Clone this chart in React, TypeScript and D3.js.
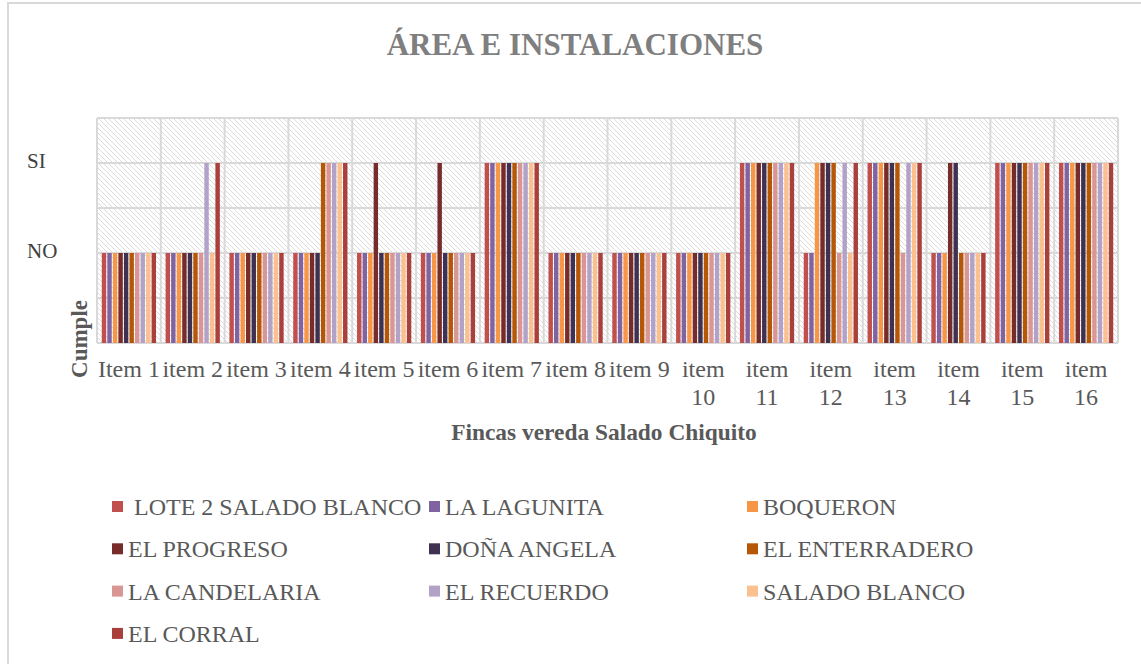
import React from "react";
import * as d3 from "d3";

const categories = ["Item 1","item 2","item 3","item 4","item 5","item 6","item 7","item 8","item 9","item 10","item 11","item 12","item 13","item 14","item 15","item 16"];
const seriesNames = [" LOTE 2 SALADO BLANCO","LA LAGUNITA","BOQUERON","EL PROGRESO","DOÑA ANGELA","EL ENTERRADERO","LA CANDELARIA","EL RECUERDO","SALADO BLANCO","EL CORRAL"];
const seriesColors = ["#C0504D","#8064A2","#F79646","#772C2A","#3F3151","#B65708","#D99694","#B3A2C7","#FAC090","#A9403C"];
// values per series across the 16 items (2 = NO, 4 = SI)
const lote2 =        [2,2,2,2,2,2,4,2,2,2,4,2,4,2,4,4];
const laLagunita =   [2,2,2,2,2,2,4,2,2,2,4,2,4,2,4,4];
const boqueron =     [2,2,2,2,2,2,4,2,2,2,4,4,4,2,4,4];
const elProgreso =   [2,2,2,2,4,4,4,2,2,2,4,4,4,4,4,4];
const donaAngela =   [2,2,2,2,2,2,4,2,2,2,4,4,4,4,4,4];
const enterradero =  [2,2,2,4,2,2,4,2,2,2,4,4,4,2,4,4];
const candelaria =   [2,2,2,4,2,2,4,2,2,2,4,2,2,2,4,4];
const recuerdo =     [2,4,2,4,2,2,4,2,2,2,4,4,4,2,4,4];
const saladoBlanco = [2,2,2,4,2,2,4,2,2,2,4,2,4,2,4,4];
const elCorral =     [2,4,2,4,2,2,4,2,2,2,4,4,4,2,4,4];
const seriesValues = [lote2,laLagunita,boqueron,elProgreso,donaAngela,enterradero,candelaria,recuerdo,saladoBlanco,elCorral];
const yTickValues = [2,4];
const yTickLabels = ["NO","SI"];
const yGrid = [0,1,2,3,4,5];

const FONT = "'Liberation Serif', 'Times New Roman', serif";

export default function App() {
  const W = 1141, H = 664;
  const left = 97, right = 1118, top = 118, bottom = 343;
  const x = d3.scaleBand<string>().domain(categories).range([left, right]).paddingInner(0.15).paddingOuter(0.075);
  const xs = d3.scaleBand<string>().domain(seriesNames).range([0, x.bandwidth()]).paddingInner(0.2);
  const y = d3.scaleLinear().domain([0, 5]).range([bottom, top]);
  const step = (right - left) / categories.length;

  const legendCols = [112, 429, 747];
  const legendRow0 = 501, legendRowStep = 42.3;

  return (
    <>
      <style>{`body{margin:0}`}</style>
      <svg width={W} height={H} style={{ display: "block", background: "#fff" }} fontFamily={FONT}>
        <defs>
          <pattern id="hatch" width="5" height="5" patternUnits="userSpaceOnUse">
            <rect width="5" height="5" fill="#fff" />
            <path d="M-1,-1 L6,6 M-3.5,1.5 L1.5,6.5 M3.5,-1.5 L6.5,1.5" stroke="#DCDCDC" strokeWidth="1" />
          </pattern>
        </defs>
        {/* chart frame */}
        <path d={`M8,${H} L8,3 L${W},3`} fill="none" stroke="#D9D9D9" strokeWidth={2} />
        {/* title */}
        <text x={575} y={55} textAnchor="middle" fontSize={31} fontWeight="bold" fill="#7F7F7F">ÁREA E INSTALACIONES</text>
        {/* plot area */}
        <rect x={left} y={top} width={right - left} height={bottom - top} fill="url(#hatch)" />
        {yGrid.map((v) => (
          <line key={"g" + v} x1={left} x2={right} y1={y(v)} y2={y(v)} stroke="#D9D9D9" strokeWidth={2} />
        ))}
        {d3.range(categories.length + 1).map((i) => (
          <line key={"v" + i} x1={left + i * step} x2={left + i * step} y1={top} y2={bottom} stroke="#D9D9D9" strokeWidth={2} />
        ))}
        {/* bars */}
        {seriesValues.map((vals, si) => (
          <g key={"s" + si} fill={seriesColors[si]}>
            {vals.map((v, ci) => (
              <rect key={ci} x={(x(categories[ci]) as number) + (xs(seriesNames[si]) as number)} y={y(v)} width={xs.bandwidth()} height={y(0) - y(v)} />
            ))}
          </g>
        ))}
        {/* y tick labels */}
        {yTickValues.map((v, i) => (
          <text key={"yt" + i} x={27} y={y(v) - 2} dominantBaseline="central" fontSize={21} fill="#404040">{yTickLabels[i]}</text>
        ))}
        {/* y axis title */}
        <text transform={`translate(87,339) rotate(-90)`} textAnchor="middle" fontSize={23} fontWeight="bold" fill="#595959">Cumple</text>
        {/* x tick labels */}
        {categories.map((c) => {
          const cx = (x(c) as number) + x.bandwidth() / 2;
          const parts = c.split(" ");
          const wrap = parts[1].length > 1;
          return wrap ? (
            <text key={c} x={cx} y={377} textAnchor="middle" fontSize={24} fill="#595959">
              <tspan x={cx}>{parts[0]}</tspan>
              <tspan x={cx} dy={28}>{parts[1]}</tspan>
            </text>
          ) : (
            <text key={c} x={cx} y={377} textAnchor="middle" fontSize={24} fill="#595959">{c}</text>
          );
        })}
        {/* x axis title */}
        <text x={604} y={440} textAnchor="middle" fontSize={23.4} fontWeight="bold" fill="#595959">Fincas vereda Salado Chiquito</text>
        {/* legend */}
        {seriesNames.map((n, i) => {
          const col = i % 3, row = Math.floor(i / 3);
          const lx = legendCols[col];
          const ly = legendRow0 + row * legendRowStep;
          return (
            <g key={"l" + i}>
              <rect x={lx} y={ly} width={11} height={11} fill={seriesColors[i]} />
              <text x={lx + 16} y={ly + 14} fontSize={24} fill="#595959" style={{ whiteSpace: "pre" }}>{n}</text>
            </g>
          );
        })}
      </svg>
    </>
  );
}
